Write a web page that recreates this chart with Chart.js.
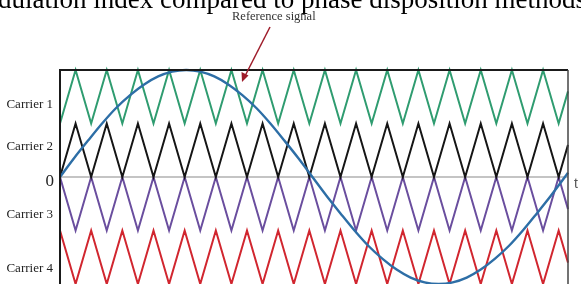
<!DOCTYPE html>
<html>
<head>
<meta charset="utf-8">
<script src="https://cdn.jsdelivr.net/npm/chart.js@4.4.1/dist/chart.umd.min.js"></script>
<style>
  html, body { margin: 0; padding: 0; background: #fff; }
  #wrap { position: relative; width: 581px; height: 284px; overflow: hidden; }
</style>
</head>
<body>
<div id="wrap"><canvas id="myChart"></canvas></div>
<script>
// time in carrier half-periods
var carrierTimes = [0, 1, 2, 3, 4, 5, 6, 7, 8, 9, 10, 11, 12, 13, 14, 15, 16,
  17, 18, 19, 20, 21, 22, 23, 24, 25, 26, 27, 28, 29, 30, 31, 32, 32.6];
var carrier1 = [1, 2, 1, 2, 1, 2, 1, 2, 1, 2, 1, 2, 1, 2, 1, 2, 1,
  2, 1, 2, 1, 2, 1, 2, 1, 2, 1, 2, 1, 2, 1, 2, 1, 1.6];
var carrier2 = [0, 1, 0, 1, 0, 1, 0, 1, 0, 1, 0, 1, 0, 1, 0, 1, 0,
  1, 0, 1, 0, 1, 0, 1, 0, 1, 0, 1, 0, 1, 0, 1, 0, 0.6];
var carrier3 = [0, -1, 0, -1, 0, -1, 0, -1, 0, -1, 0, -1, 0, -1, 0, -1, 0,
  -1, 0, -1, 0, -1, 0, -1, 0, -1, 0, -1, 0, -1, 0, -1, 0, -0.6];
var carrier4 = [-1, -2, -1, -2, -1, -2, -1, -2, -1, -2, -1, -2, -1, -2, -1, -2, -1,
  -2, -1, -2, -1, -2, -1, -2, -1, -2, -1, -2, -1, -2, -1, -2, -1, -1.6];

var refTimes = [0, 0.9, 1.8, 2.7, 3.6, 4.5, 5.4, 6.3, 7.2, 8.1, 9, 9.9, 10.8, 11.7,
  12.6, 13.5, 14.4, 15.3, 16.2, 17.1, 18, 18.9, 19.8, 20.7, 21.6, 22.5, 23.4, 24.3,
  25.2, 26.1, 27, 27.9, 28.8, 29.7, 30.6, 31.5, 32.4, 32.6];
var refSignal = [0, 0.35, 0.68, 1.0, 1.29, 1.53, 1.73, 1.88, 1.97, 2.0, 1.97, 1.88,
  1.73, 1.53, 1.29, 1.0, 0.68, 0.35, 0, -0.35, -0.68, -1.0, -1.29, -1.53, -1.73,
  -1.88, -1.97, -2.0, -1.97, -1.88, -1.73, -1.53, -1.29, -1.0, -0.68, -0.35, 0, 0.08];

var carrierLabels = ['Carrier 1', 'Carrier 2', 'Carrier 3', 'Carrier 4'];
var captionText = 'dulation index compared to phase disposition methods';

function pts(xs, ys) {
  return xs.map(function(x, i) { return { x: x, y: ys[i] }; });
}

function line(data, color, extra) {
  var ds = {
    data: data,
    borderColor: color,
    borderWidth: 2,
    pointRadius: 0,
    showLine: true,
    fill: false,
    clip: 4
  };
  for (var k in extra) ds[k] = extra[k];
  return ds;
}

var decor = {
  id: 'decor',
  beforeDatasetsDraw: function(chart) {
    var c = chart.ctx, a = chart.chartArea;
    var y0 = chart.scales.y.getPixelForValue(0);
    c.save();
    c.strokeStyle = '#8a8a8a';
    c.lineWidth = 1.2;
    c.beginPath();
    c.moveTo(a.left, y0);
    c.lineTo(a.right, y0);
    c.stroke();
    c.restore();
  },
  afterDatasetsDraw: function(chart) {
    var c = chart.ctx, a = chart.chartArea;
    var ys = chart.scales.y;
    c.save();
    // frame
    c.strokeStyle = '#1a1a1a';
    c.lineWidth = 2;
    c.beginPath();
    c.moveTo(a.left, a.bottom + 2);
    c.lineTo(a.left, a.top);
    c.lineTo(a.right, a.top);
    c.stroke();
    c.strokeStyle = '#444';
    c.lineWidth = 1.5;
    c.beginPath();
    c.moveTo(a.right, a.top);
    c.lineTo(a.right, a.bottom + 2);
    c.stroke();

    // labels
    c.fillStyle = '#222';
    c.textAlign = 'right';
    c.textBaseline = 'middle';
    c.font = '13px "Liberation Serif"';
    var lv = [1.35, 0.57, -0.7, -1.72];
    carrierLabels.forEach(function(t, i) {
      c.fillText(t, a.left - 7, ys.getPixelForValue(lv[i]));
    });
    c.font = '17px "Liberation Serif"';
    c.fillText('0', a.left - 6, ys.getPixelForValue(0) + 5);

    c.textAlign = 'left';
    c.fillStyle = '#555';
    c.font = '14px "Liberation Sans"';
    c.fillText('t', a.right + 6, ys.getPixelForValue(0) + 7);

    // caption cut at top
    c.fillStyle = '#000';
    c.textBaseline = 'alphabetic';
    c.font = '27px "Liberation Serif"';
    c.fillText(captionText, -2, 8);

    // reference signal note + arrow
    c.fillStyle = '#333';
    c.font = '12.5px "Liberation Serif"';
    c.textBaseline = 'middle';
    c.fillText('Reference signal', 232, 17);
    c.strokeStyle = '#9e1c2a';
    c.fillStyle = '#9e1c2a';
    c.lineWidth = 1.5;
    c.beginPath();
    c.moveTo(270, 27);
    c.lineTo(245, 76);
    c.stroke();
    c.beginPath();
    c.moveTo(242, 82);
    c.lineTo(241.5, 72);
    c.lineTo(248.5, 75.5);
    c.closePath();
    c.fill();
    c.restore();
  }
};

var chart = new Chart('myChart', {
  type: 'scatter',
  data: {
    datasets: [
      line(pts(refTimes, refSignal), '#2d6ea6', { borderWidth: 2.4, cubicInterpolationMode: 'monotone' }),
      line(pts(carrierTimes, carrier1), '#2f9c70'),
      line(pts(carrierTimes, carrier2), '#151515'),
      line(pts(carrierTimes, carrier3), '#6a4e9e'),
      line(pts(carrierTimes, carrier4), '#d1262f')
    ]
  },
  options: {
    responsive: true,
    maintainAspectRatio: false,
    animation: false,
    layout: { padding: { left: 60, right: 13, top: 70, bottom: 0 } },
    plugins: { legend: { display: false }, tooltip: { enabled: false } },
    scales: {
      x: { type: 'linear', min: 0, max: 32.6, display: false },
      y: { min: -2, max: 2, display: false }
    }
  },
  plugins: [decor]
});
</script>
</body>
</html>
